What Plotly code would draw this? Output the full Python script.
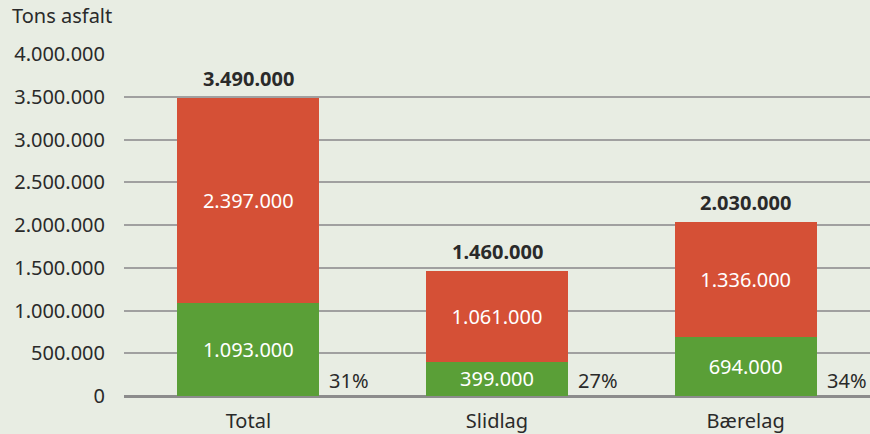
import plotly.graph_objects as go

categories = ["Total", "Slidlag", "Bærelag"]
green_values = [1093000, 399000, 694000]
red_values = [2397000, 1061000, 1336000]
totals = [3490000, 1460000, 2030000]
percent_labels = ["31%", "27%", "34%"]
y_ticks = [0, 500000, 1000000, 1500000, 2000000, 2500000, 3000000, 3500000, 4000000]

def fmt(v):
    return f"{v:,}".replace(",", ".")

FONT = "Noto Sans"
FS = 20
GREEN = "#5a9f37"
RED = "#d55036"
BG = "#e8ede3"
TXT = "#2a2a2a"

fig = go.Figure()
fig.add_trace(go.Bar(
    x=categories, y=green_values, marker=dict(color=GREEN, line=dict(width=0)),
    text=[fmt(v) for v in green_values], textposition="inside", insidetextanchor="middle",
    textfont=dict(color="white", size=FS, family=FONT), width=0.57, hoverinfo="skip",
))
fig.add_trace(go.Bar(
    x=categories, y=red_values, marker=dict(color=RED, line=dict(width=0)),
    text=[fmt(v) for v in red_values], textposition="inside", insidetextanchor="middle",
    textfont=dict(color="white", size=FS, family=FONT), width=0.57, hoverinfo="skip",
))

for c, t in zip(categories, totals):
    fig.add_annotation(x=c, y=t, text=f"<b>{fmt(t)}</b>", showarrow=False,
                       yanchor="bottom", yshift=4, font=dict(size=FS, color=TXT, family=FONT))
for c, p in zip(categories, percent_labels):
    fig.add_annotation(x=c, y=0, text=p, showarrow=False, xanchor="left", yanchor="bottom",
                       xshift=79, yshift=0, font=dict(size=FS, color=TXT, family=FONT))

fig.add_annotation(xref="paper", yref="paper", x=-114/746, y=1, yshift=23, text="Tons asfalt",
                   showarrow=False, xanchor="left", yanchor="bottom",
                   font=dict(size=FS, color=TXT, family=FONT))

fig.update_layout(
    width=870, height=434, barmode="stack", showlegend=False,
    paper_bgcolor=BG, plot_bgcolor=BG,
    margin=dict(l=124, r=0, t=54, b=38),
    font=dict(family=FONT, size=FS, color=TXT),
)
fig.update_xaxes(type="category", showgrid=False, ticks="", tickfont=dict(size=FS, color=TXT),
                 showline=False, ticklabelstandoff=11)
fig.update_yaxes(range=[0, 4000000], tickvals=y_ticks, ticktext=[fmt(v) for v in y_ticks],
                 showgrid=True, gridcolor="#a0a0a0", gridwidth=2, zeroline=True,
                 zerolinecolor="#8c8c8c", zerolinewidth=3, ticks="", ticklabelstandoff=18,
                 tickfont=dict(size=FS, color=TXT))

fig.write_html("out.html", config={"displayModeBar": False},
               post_script="document.body.style.margin='0';")
